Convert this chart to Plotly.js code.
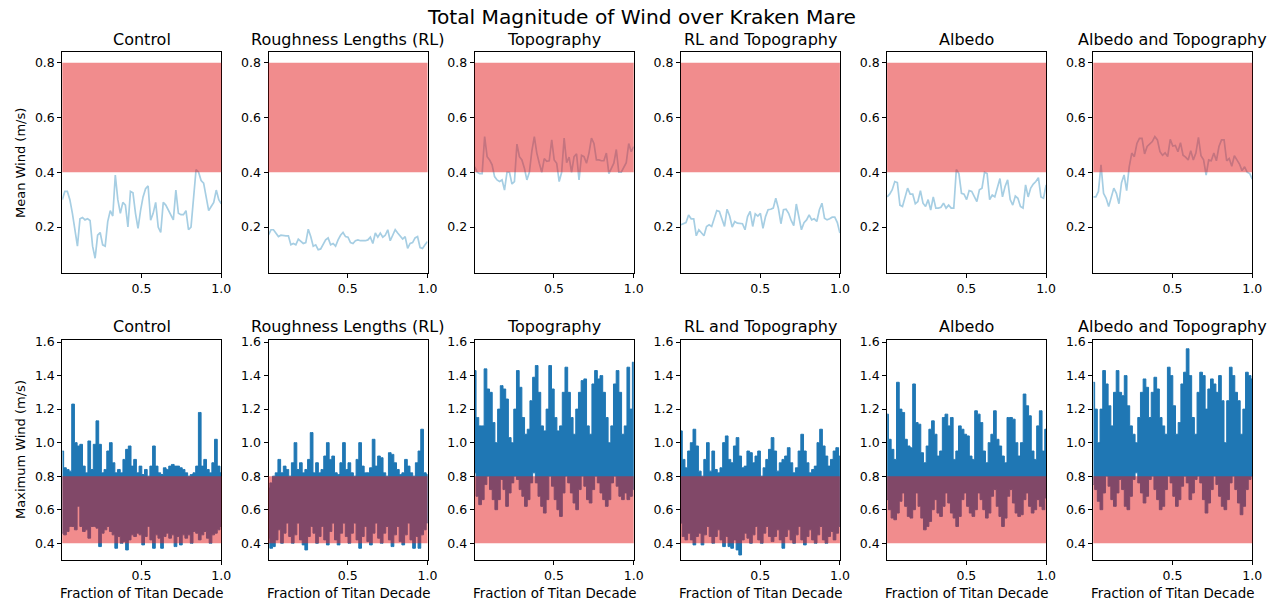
<!DOCTYPE html>
<html>
<head>
<meta charset="utf-8">
<script src="https://cdn.plot.ly/plotly-3.0.1.min.js"></script>
<style>html,body{margin:0;padding:0;background:#fff;}#chart{width:1283px;height:607px;}</style>
</head>
<body>
<div id="chart"></div>
<script>
// ---------- DATA ----------
const panelTitles = ["Control", "Roughness Lengths (RL)", "Topography", "RL and Topography", "Albedo", "Albedo and Topography"];
const mainTitle = "Total Magnitude of Wind over Kraken Mare";
const meanLabel = "Mean Wind (m/s)";
const maxLabel = "Maximum Wind (m/s)";
const xLabel = "Fraction of Titan Decade";
const bandLow = 0.4;
const bandHigh = 0.8;
const xTickVals = [0.5, 1.0];
const meanTickVals = [0.2, 0.4, 0.6, 0.8];
const maxTickVals = [0.4, 0.6, 0.8, 1.0, 1.2, 1.4, 1.6];

// Mean wind (top row)
const meanControl = [0.30,0.33,0.33,0.30,0.25,0.18,0.13,0.23,0.235,0.226,0.23,0.224,0.13,0.086,0.17,0.18,0.135,0.13,0.22,0.26,0.24,0.39,0.30,0.25,0.29,0.28,0.20,0.33,0.325,0.25,0.195,0.26,0.31,0.34,0.35,0.225,0.25,0.29,0.20,0.18,0.29,0.28,0.26,0.245,0.226,0.335,0.25,0.245,0.245,0.26,0.19,0.20,0.31,0.41,0.40,0.37,0.36,0.31,0.26,0.275,0.29,0.335,0.30,0.285];
const meanRL = [0.171,0.19,0.19,0.178,0.165,0.17,0.168,0.168,0.168,0.135,0.14,0.135,0.156,0.147,0.14,0.143,0.192,0.165,0.13,0.135,0.117,0.12,0.135,0.153,0.16,0.135,0.14,0.13,0.153,0.17,0.18,0.165,0.163,0.143,0.14,0.15,0.153,0.15,0.15,0.15,0.153,0.163,0.14,0.178,0.163,0.178,0.163,0.17,0.19,0.15,0.17,0.19,0.178,0.168,0.156,0.165,0.122,0.14,0.143,0.16,0.165,0.125,0.122,0.135,0.147];
const meanTopo = [0.42,0.40,0.395,0.395,0.53,0.457,0.445,0.427,0.384,0.372,0.366,0.372,0.335,0.40,0.40,0.357,0.366,0.503,0.457,0.445,0.415,0.372,0.40,0.477,0.53,0.47,0.433,0.40,0.45,0.44,0.442,0.518,0.445,0.433,0.366,0.40,0.525,0.435,0.455,0.40,0.457,0.467,0.372,0.462,0.457,0.433,0.47,0.525,0.505,0.445,0.445,0.442,0.442,0.47,0.395,0.415,0.433,0.483,0.40,0.40,0.415,0.435,0.505,0.475,0.494];
const meanRLTopo = [0.208,0.212,0.216,0.244,0.23,0.23,0.168,0.19,0.178,0.168,0.202,0.208,0.202,0.232,0.26,0.257,0.226,0.202,0.265,0.24,0.20,0.22,0.214,0.214,0.212,0.19,0.238,0.257,0.202,0.248,0.24,0.25,0.195,0.238,0.263,0.265,0.269,0.305,0.269,0.212,0.263,0.265,0.25,0.224,0.205,0.284,0.238,0.19,0.216,0.226,0.244,0.226,0.23,0.22,0.263,0.287,0.232,0.226,0.23,0.236,0.236,0.216,0.178];
const meanAlbedo = [0.31,0.32,0.336,0.366,0.362,0.28,0.275,0.31,0.342,0.32,0.32,0.285,0.293,0.333,0.287,0.275,0.30,0.262,0.31,0.269,0.269,0.272,0.287,0.269,0.28,0.269,0.269,0.41,0.395,0.323,0.32,0.30,0.333,0.33,0.31,0.293,0.336,0.342,0.40,0.395,0.30,0.317,0.31,0.348,0.377,0.31,0.348,0.372,0.30,0.28,0.313,0.305,0.275,0.269,0.354,0.31,0.342,0.357,0.366,0.38,0.31,0.305,0.354];
const meanAlbTopo = [0.31,0.31,0.33,0.427,0.323,0.305,0.275,0.305,0.342,0.323,0.285,0.362,0.39,0.333,0.42,0.47,0.457,0.505,0.524,0.524,0.467,0.494,0.505,0.512,0.53,0.518,0.475,0.462,0.471,0.457,0.52,0.496,0.498,0.475,0.508,0.462,0.455,0.445,0.479,0.445,0.47,0.527,0.46,0.445,0.39,0.445,0.442,0.47,0.442,0.494,0.518,0.518,0.442,0.45,0.422,0.46,0.445,0.43,0.406,0.42,0.40,0.395,0.375];

// Maximum wind (bottom row): upper and lower extent of the dense signal
const maxHiControl = [0.95,0.85,0.84,0.83,1.23,1.0,0.98,0.99,0.86,0.82,1.01,0.84,0.99,1.13,0.99,0.82,0.84,0.95,1.0,0.88,0.82,0.84,0.82,0.9,0.96,0.98,0.86,0.9,0.82,0.86,0.81,0.84,0.8,0.86,0.98,0.86,0.82,0.81,0.85,0.84,0.86,0.87,0.86,0.86,0.85,0.84,0.82,0.8,0.81,0.82,0.86,1.18,0.86,0.9,0.84,0.82,0.88,1.02,0.86,0.82];
const maxLoControl = [0.46,0.45,0.47,0.5,0.5,0.48,0.62,0.5,0.47,0.48,0.43,0.5,0.5,0.49,0.38,0.46,0.48,0.5,0.47,0.45,0.37,0.44,0.4,0.41,0.36,0.42,0.45,0.44,0.46,0.45,0.39,0.44,0.5,0.42,0.37,0.45,0.43,0.37,0.44,0.46,0.43,0.45,0.38,0.44,0.39,0.45,0.43,0.45,0.4,0.47,0.46,0.42,0.45,0.47,0.43,0.4,0.45,0.46,0.48,0.5];
const maxHiRL = [0.73,0.76,0.8,0.82,0.9,0.82,0.86,0.84,0.8,0.88,1.0,0.84,0.88,0.82,0.84,0.9,1.06,0.82,0.88,0.82,0.84,0.92,1.0,0.9,0.92,0.82,0.81,0.88,1.0,0.84,0.88,0.82,0.8,0.9,1.0,0.86,0.82,0.82,0.85,1.02,0.86,0.92,0.91,0.82,0.8,0.94,0.93,0.88,0.84,0.81,0.82,0.9,0.86,0.82,0.8,0.88,0.95,1.08,0.82,0.81];
const maxLoRL = [0.43,0.37,0.38,0.42,0.48,0.4,0.46,0.52,0.44,0.4,0.45,0.52,0.42,0.39,0.36,0.44,0.5,0.46,0.4,0.44,0.5,0.42,0.39,0.47,0.52,0.42,0.39,0.46,0.52,0.44,0.4,0.46,0.52,0.42,0.37,0.44,0.5,0.41,0.39,0.46,0.52,0.43,0.4,0.46,0.5,0.42,0.38,0.45,0.5,0.41,0.39,0.45,0.52,0.42,0.37,0.44,0.37,0.45,0.48,0.52];
const maxHiTopo = [1.43,1.15,1.1,1.1,1.44,1.32,1.3,1.12,1.0,1.2,1.34,1.32,1.26,1.03,1.0,1.2,1.43,1.33,1.15,1.05,1.08,1.25,1.39,1.46,1.3,1.1,1.07,1.2,1.46,1.32,1.15,1.07,1.1,1.3,1.45,1.3,1.15,1.05,1.2,1.3,1.37,1.38,1.1,1.05,1.35,1.43,1.38,1.4,1.3,1.15,1.0,1.1,1.35,1.43,1.3,1.05,1.1,1.45,1.2,1.48];
const maxLoTopo = [0.82,0.68,0.63,0.66,0.75,0.8,0.72,0.66,0.6,0.66,0.78,0.72,0.62,0.7,0.76,0.8,0.78,0.72,0.68,0.62,0.66,0.76,0.82,0.76,0.68,0.62,0.58,0.66,0.8,0.74,0.66,0.6,0.56,0.7,0.8,0.76,0.7,0.64,0.6,0.72,0.8,0.74,0.66,0.64,0.72,0.8,0.76,0.7,0.66,0.62,0.66,0.76,0.8,0.74,0.68,0.66,0.7,0.66,0.68,0.72];
const maxHiRLTopo = [1.07,0.9,0.85,0.95,1.0,1.08,0.98,0.83,0.8,0.9,1.0,0.83,0.95,0.84,0.82,0.85,1.0,1.04,0.9,0.88,0.98,1.03,0.92,0.85,0.86,0.95,0.94,0.88,0.92,0.95,0.8,0.85,0.9,0.96,1.03,0.95,0.83,0.88,0.9,0.92,0.97,0.88,0.82,0.85,0.95,1.05,0.95,0.88,0.82,0.84,0.86,1.0,1.08,0.98,0.92,0.86,0.9,0.95,0.97,0.92];
const maxLoRLTopo = [0.52,0.44,0.42,0.46,0.42,0.39,0.44,0.46,0.39,0.45,0.5,0.44,0.4,0.44,0.48,0.42,0.38,0.44,0.38,0.37,0.42,0.36,0.33,0.42,0.46,0.43,0.4,0.45,0.5,0.42,0.4,0.46,0.5,0.44,0.41,0.44,0.48,0.42,0.37,0.44,0.48,0.42,0.4,0.45,0.5,0.42,0.39,0.44,0.48,0.42,0.4,0.45,0.5,0.42,0.4,0.44,0.47,0.42,0.46,0.5];
const maxHiAlbedo = [1.17,1.02,0.96,0.9,1.36,1.2,1.18,1.02,0.98,0.97,1.35,1.12,1.11,0.94,0.88,0.98,1.08,1.13,1.05,0.92,0.95,1.15,1.17,1.1,1.15,0.9,0.95,1.1,1.08,1.05,1.04,0.92,0.9,1.19,1.17,1.12,0.95,0.88,1.0,1.05,1.19,1.02,0.98,0.92,0.88,1.15,1.15,1.14,1.0,0.92,1.0,1.29,1.22,1.16,0.95,0.9,1.1,1.19,0.95,1.08];
const maxLoAlbedo = [0.66,0.6,0.55,0.54,0.58,0.65,0.7,0.62,0.56,0.55,0.6,0.7,0.62,0.55,0.48,0.5,0.53,0.6,0.66,0.58,0.56,0.62,0.7,0.64,0.58,0.55,0.5,0.56,0.66,0.7,0.62,0.58,0.56,0.6,0.7,0.66,0.6,0.55,0.58,0.68,0.72,0.62,0.56,0.5,0.55,0.68,0.72,0.64,0.58,0.56,0.57,0.66,0.7,0.62,0.58,0.6,0.66,0.62,0.6,0.67];
const maxHiAlbTopo = [1.36,1.2,1.0,1.2,1.43,1.35,1.22,1.1,1.3,1.43,1.3,1.28,1.4,1.22,1.1,1.05,1.0,1.15,1.3,1.38,1.33,1.15,1.3,1.39,1.32,1.15,1.1,1.05,1.45,1.4,1.22,1.05,1.12,1.35,1.42,1.56,1.4,1.15,1.05,1.3,1.42,1.4,1.2,1.32,1.38,1.35,1.3,1.4,1.25,1.0,1.25,1.45,1.4,1.3,1.25,1.05,1.2,1.42,1.4,1.38];
const maxLoAlbTopo = [0.75,0.72,0.65,0.6,0.7,0.8,0.74,0.66,0.62,0.7,0.78,0.72,0.62,0.6,0.68,0.78,0.82,0.76,0.7,0.64,0.68,0.78,0.8,0.72,0.66,0.6,0.62,0.72,0.8,0.76,0.68,0.62,0.66,0.74,0.8,0.76,0.66,0.7,0.78,0.8,0.76,0.66,0.58,0.64,0.72,0.8,0.75,0.68,0.62,0.6,0.66,0.76,0.8,0.72,0.64,0.57,0.62,0.72,0.78,0.8];

const meanSeries = [meanControl, meanRL, meanTopo, meanRLTopo, meanAlbedo, meanAlbTopo];
const maxHiSeries = [maxHiControl, maxHiRL, maxHiTopo, maxHiRLTopo, maxHiAlbedo, maxHiAlbTopo];
const maxLoSeries = [maxLoControl, maxLoRL, maxLoTopo, maxLoRLTopo, maxLoAlbedo, maxLoAlbTopo];

// ---------- STYLE / LAYOUT ----------
const W = 1283, H = 607;
const X_START = 0.003;
const FONT = "DejaVu Sans, sans-serif";
const colLeft = 62.3, colStep = 206.2, colWidth = 159;
const topRowPx = [52.3, 273.3], botRowPx = [339.7, 560];

function fracAxis(n) { // time coordinate: evenly spaced samples over the decade
  const out = [];
  for (let i = 0; i < n; i++) out.push(X_START + i * (1 - X_START) / (n - 1));
  return out;
}

const traces = [];
const layout = {
  width: W, height: H,
  margin: {l: 0, r: 0, t: 0, b: 0},
  paper_bgcolor: "#fff", plot_bgcolor: "#fff",
  showlegend: false,
  font: {family: FONT, color: "#000"},
  shapes: [], annotations: []
};

function axisStyle(extra) {
  return Object.assign({
    showgrid: false, zeroline: false,
    showline: true, mirror: true, linecolor: "#000", linewidth: 1,
    ticks: "outside", ticklen: 4, tickwidth: 1, tickcolor: "#000",
    tickfont: {family: FONT, size: 12.5, color: "#000"},
    tickformat: ".1f", fixedrange: true
  }, extra);
}

for (let c = 0; c < 6; c++) {
  const x0 = (colLeft + c * colStep) / W, x1 = (colLeft + c * colStep + colWidth) / W;
  const ti = c + 1, bi = c + 7;
  const tx = "x" + ti, ty = "y" + ti, bx = "x" + bi, by = "y" + bi;
  layout["xaxis" + ti] = axisStyle({domain: [x0, x1], range: [X_START, 1], tickvals: xTickVals, anchor: ty});
  layout["yaxis" + ti] = axisStyle({domain: [1 - topRowPx[1] / H, 1 - topRowPx[0] / H], range: [0.031, 0.838], tickvals: meanTickVals, anchor: tx});
  layout["xaxis" + bi] = axisStyle({domain: [x0, x1], range: [X_START, 1], tickvals: xTickVals, anchor: by});
  layout["yaxis" + bi] = axisStyle({domain: [1 - botRowPx[1] / H, 1 - botRowPx[0] / H], range: [0.30, 1.614], tickvals: maxTickVals, anchor: bx});

  const m = meanSeries[c];
  traces.push({x: fracAxis(m.length), y: m, xaxis: tx, yaxis: ty, type: "scatter", mode: "lines",
    line: {color: "#a6cee3", width: 1.7}, hoverinfo: "skip"});

  const hi = maxHiSeries[c], lo = maxLoSeries[c];
  const xs = fracAxis(hi.length);
  traces.push({x: xs.concat(xs.slice().reverse()), y: hi.concat(lo.slice().reverse()),
    xaxis: bx, yaxis: by, type: "scatter", mode: "lines", fill: "toself",
    fillcolor: "#1f77b4", line: {color: "#1f77b4", width: 1, shape: "hvh"}, hoverinfo: "skip"});

  [[tx, ty], [bx, by]].forEach(([ax, ay]) => {
    layout.shapes.push({type: "rect", xref: ax + " domain", yref: ay, x0: 0, x1: 1, y0: bandLow, y1: bandHigh,
      fillcolor: "#e41a1c", opacity: 0.5, line: {width: 0}, layer: "above"});
  });

  const cx = (x0 + x1) / 2;
  layout.annotations.push({text: panelTitles[c], xref: "paper", yref: "paper", x: cx, y: 1 - 40 / H,
    xanchor: "center", yanchor: "middle", showarrow: false, font: {family: FONT, size: 16, color: "#000"}});
  layout.annotations.push({text: panelTitles[c], xref: "paper", yref: "paper", x: cx, y: 1 - 326 / H,
    xanchor: "center", yanchor: "middle", showarrow: false, font: {family: FONT, size: 16, color: "#000"}});
  layout.annotations.push({text: xLabel, xref: "paper", yref: "paper", x: cx, y: 1 - 593 / H,
    xanchor: "center", yanchor: "middle", showarrow: false, font: {family: FONT, size: 13.4, color: "#000"}});
}

layout.annotations.push({text: mainTitle, xref: "paper", yref: "paper", x: 641 / W, y: 1 - 17 / H,
  xanchor: "center", yanchor: "middle", showarrow: false, font: {family: FONT, size: 20.2, color: "#000"}});
layout.annotations.push({text: meanLabel, xref: "paper", yref: "paper", x: 20 / W, y: 1 - 163 / H, textangle: -90,
  xanchor: "center", yanchor: "middle", showarrow: false, font: {family: FONT, size: 13, color: "#000"}});
layout.annotations.push({text: maxLabel, xref: "paper", yref: "paper", x: 20 / W, y: 1 - 450 / H, textangle: -90,
  xanchor: "center", yanchor: "middle", showarrow: false, font: {family: FONT, size: 13, color: "#000"}});

Plotly.newPlot("chart", traces, layout, {displayModeBar: false, staticPlot: true});
</script>
</body>
</html>
